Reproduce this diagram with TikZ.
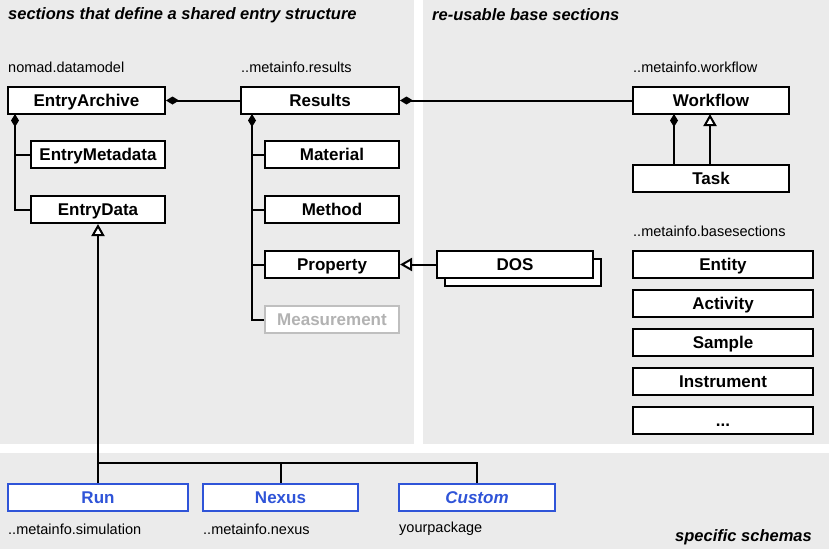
\documentclass[tikz,border=0pt]{standalone}
\usepackage{fontspec}
\setmainfont{Liberation Sans}
\usetikzlibrary{arrows.meta}
\definecolor{panel}{HTML}{EBEBEB}
\definecolor{schema}{HTML}{2F54D8}
\begin{document}
\begin{tikzpicture}[x=1pt,y=-1pt,
  box/.style={draw=black,line width=2pt,fill=white,inner sep=0pt,text height=12pt,text depth=0pt,font=\bfseries\fontsize{17}{19}\selectfont},
  sbox/.style={box,draw=schema,text=schema},
  lbl/.style={anchor=west,inner sep=0pt,font=\fontsize{14.5}{16}\selectfont},
  ttl/.style={anchor=west,inner sep=0pt,font=\bfseries\itshape\fontsize{16.5}{18}\selectfont},
  ln/.style={line width=2pt},
  comp/.style={line width=2pt,{Diamond[length=13pt,width=8pt]}-},
  inh/.style={line width=2pt,{Triangle[open,length=12pt,width=13pt,fill=white]}-}]
\useasboundingbox (0,0) rectangle (829,549);
\fill[white] (0,0) rectangle (829,549);
\fill[panel] (0,0) rectangle (414,444);
\fill[panel] (423,0) rectangle (829,444);
\fill[panel] (0,453) rectangle (829,549);
\node[ttl] (t1) at (8,15) {sections that define a shared entry structure};
\node[ttl] (t2) at (432,15) {re-usable base sections};
\node[ttl,anchor=east] (t3) at (812,537) {specific schemas};
\newcommand{\bx}[6][box]{\node[#1,minimum width=#4-#2,minimum height=27] (#6) at ({(#2+#4)/2},#3+13.5) {#5};}
\node[lbl] (l1) at (8,67) {nomad.datamodel};
\node[lbl] (l2) at (241,67) {..metainfo.results};
\node[lbl] (l3) at (633,67) {..metainfo.workflow};
\node[lbl] (l4) at (633,231) {..metainfo.basesections};
\bx{8}{87}{165}{EntryArchive}{ea}
\bx{31}{141}{165}{EntryMetadata}{em}
\bx{31}{196}{165}{EntryData}{ed}
\bx{241}{87}{399}{Results}{res}
\bx{265}{141}{399}{Material}{mat}
\bx{265}{196}{399}{Method}{met}
\bx{265}{251}{399}{Property}{prop}
\bx[box,draw=black!25,text=black!30]{265}{306}{399}{Measurement}{meas}
\bx{445}{259}{601}{}{dos2}
\bx{437}{251}{593}{DOS}{dos}
\bx{633}{87}{789}{Workflow}{wf}
\bx{633}{165}{789}{Task}{task}
\bx{633}{251}{813}{Entity}{ent}
\bx{633}{290}{813}{Activity}{act}
\bx{633}{329}{813}{Sample}{smp}
\bx{633}{368}{813}{Instrument}{ins}
\bx{633}{407}{813}{...}{dots}
\bx[sbox]{8}{484}{188}{Run}{run}
\bx[sbox]{203}{484}{358}{Nexus}{nex}
\bx[sbox]{399}{484}{555}{\itshape Custom}{cus}
\node[lbl] (l5) at (8,529) {..metainfo.simulation};
\node[lbl] (l6) at (203,529) {..metainfo.nexus};
\node[lbl] (l7) at (399,529) {yourpackage};
% connectors
\draw[comp] (ea.east) -- (res.west);
\draw[comp] (res.east) -- (wf.west);
\coordinate (c1) at (15,114);
\draw[comp] (c1) |- (ed.west);
\draw[ln] (c1 |- em.west) -- (em.west);
\coordinate (c2) at (252,114);
\draw[comp] (c2) |- (meas.west);
\draw[ln] (c2 |- mat.west) -- (mat.west);
\draw[ln] (c2 |- met.west) -- (met.west);
\draw[ln] (c2 |- prop.west) -- (prop.west);
\coordinate (c3) at (674,114);
\draw[comp] (c3) -- (c3 |- task.north);
\coordinate (c4) at (710,114);
\draw[inh] (c4) -- (c4 |- task.north);
\draw[inh] (prop.east) -- (dos.west);
\coordinate (j) at (98,463);
\draw[inh] (ed.south -| j) -- (j) -- (run.north -| j);
\draw[ln] (j) -| (nex.north);
\draw[ln] (nex.north |- j) -| (cus.north);
\end{tikzpicture}
\end{document}
